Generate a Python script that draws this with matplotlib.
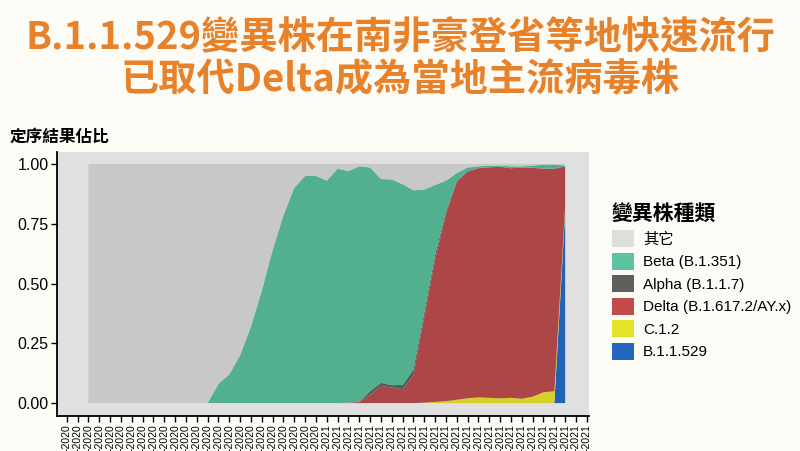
import matplotlib
matplotlib.use("Agg")
import matplotlib.pyplot as plt
from matplotlib.patches import Patch
import numpy as np

plt.rcParams['font.family'] = ['Liberation Sans', 'Noto Sans CJK TC']

# weekly x axis tick labels (the date part is cut off in the source image)
tick_labels = ['-2020'] * 24 + ['-2021'] * 25

# variant shares per week, data starts at tick 2
beta = [0, 0, 0, 0, 0, 0, 0, 0, 0, 0, 0, 0,
        0.08, 0.12, 0.20, 0.32, 0.47, 0.64, 0.785, 0.90, 0.95, 0.95,
        0.93, 0.98, 0.968, 0.984, 0.935, 0.852, 0.86, 0.839, 0.75, 0.513,
        0.292, 0.13, 0.032, 0.015, 0.007, 0.007, 0.005, 0.008, 0.005, 0.009,
        0.017, 0.018, 0.003]
alpha = [0, 0, 0, 0, 0, 0, 0, 0, 0, 0, 0, 0, 0, 0, 0, 0, 0, 0, 0, 0,
         0, 0, 0, 0, 0,
         0.002, 0.015, 0.013, 0.01, 0.018, 0.025, 0.02, 0.02, 0.01, 0.005,
         0.002, 0.001, 0, 0, 0, 0, 0, 0, 0, 0]
delta = [0, 0, 0, 0, 0, 0, 0, 0, 0, 0, 0, 0, 0, 0, 0, 0, 0, 0, 0, 0,
         0, 0, 0, 0,
         0.002, 0.004, 0.035, 0.072, 0.065, 0.058, 0.115, 0.358, 0.595, 0.782,
         0.911, 0.948, 0.958, 0.964, 0.968, 0.96, 0.967, 0.957, 0.935, 0.93,
         0.17]
c12 = [0, 0, 0, 0, 0, 0, 0, 0, 0, 0, 0, 0, 0, 0, 0, 0, 0, 0, 0, 0,
       0, 0, 0, 0, 0, 0, 0, 0, 0, 0, 0,
       0.002, 0.005, 0.008, 0.014, 0.02, 0.024, 0.022, 0.02, 0.022, 0.018,
       0.027, 0.045, 0.05, 0.02]
omicron = [0, 0, 0, 0, 0, 0, 0, 0, 0, 0, 0, 0, 0, 0, 0, 0, 0, 0, 0, 0,
           0, 0, 0, 0, 0, 0, 0, 0, 0, 0, 0, 0, 0, 0, 0, 0, 0, 0, 0, 0,
           0, 0, 0, 0, 0.80]

variant_names = ['其它', 'Beta (B.1.351)', 'Alpha (B.1.1.7)',
                 'Delta (B.1.617.2/AY.x)', 'C.1.2', 'B.1.1.529']
chart_colors = ['#c8c8c8', '#53b08f', '#5a5a5a', '#ad4747', '#d6d12a', '#2163b2']
legend_colors = ['#dedede', '#5cc3a0', '#5f5f5f', '#c24b4b', '#e4e32a', '#2368be']

known = np.array([beta, alpha, delta, c12, omicron]).sum(axis=0)
other = 1 - known
x = np.arange(2, 2 + len(beta))

fig = plt.figure(figsize=(8, 4.51), dpi=100, facecolor='#fcfbf6')
ax = fig.add_axes([0.07125, 0.0776, 0.665, 0.5854])
ax.set_facecolor('#e0e0e0')

ax.stackplot(x, omicron, c12, delta, alpha, beta, other,
             colors=chart_colors[::-1], linewidth=0)

ax.set_xlim(-0.9, 48.2)
ax.set_ylim(-0.054, 1.05)
ax.set_xticks(np.arange(len(tick_labels)))
ax.set_xticklabels(tick_labels, rotation=90, va='top', fontsize=7.5)
ax.set_yticks([0, 0.25, 0.5, 0.75, 1.0])
ax.set_yticklabels(['0.00', '0.25', '0.50', '0.75', '1.00'], fontsize=11.5)
ax.tick_params(axis='both', length=4, width=1, color='black', pad=2)
for side in ['top', 'right']:
    ax.spines[side].set_visible(False)
for side in ['left', 'bottom']:
    ax.spines[side].set_linewidth(1.3)

# headline
fig.text(0.5, 1 - 38 / 451, 'B.1.1.529變異株在南非豪登省等地快速流行',
         ha='center', va='center', fontsize=27.5, color='#e8822a',
         family=['Noto Sans CJK TC'], weight='black')
fig.text(0.5, 1 - 80 / 451, '已取代Delta成為當地主流病毒株',
         ha='center', va='center', fontsize=27.5, color='#e8822a',
         family=['Noto Sans CJK TC'], weight='black')

fig.text(10 / 800, 1 - 137 / 451, '定序結果佔比', ha='left', va='center',
         fontsize=12, weight='bold', family=['Noto Sans CJK TC'])

handles = [Patch(facecolor=c, edgecolor='none') for c in legend_colors]
leg = fig.legend(handles, variant_names, loc='upper left',
                 bbox_to_anchor=(598 / 800, 1 - 190 / 451),
                 frameon=False, fontsize=11, title='變異株種類',
                 title_fontproperties={'family': 'Noto Sans CJK TC',
                                       'weight': 'bold', 'size': 15},
                 handlelength=1.44, handleheight=1.35, labelspacing=0.35,
                 handletextpad=0.6, alignment='left')

fig.savefig('out.png', dpi=100, facecolor=fig.get_facecolor())
